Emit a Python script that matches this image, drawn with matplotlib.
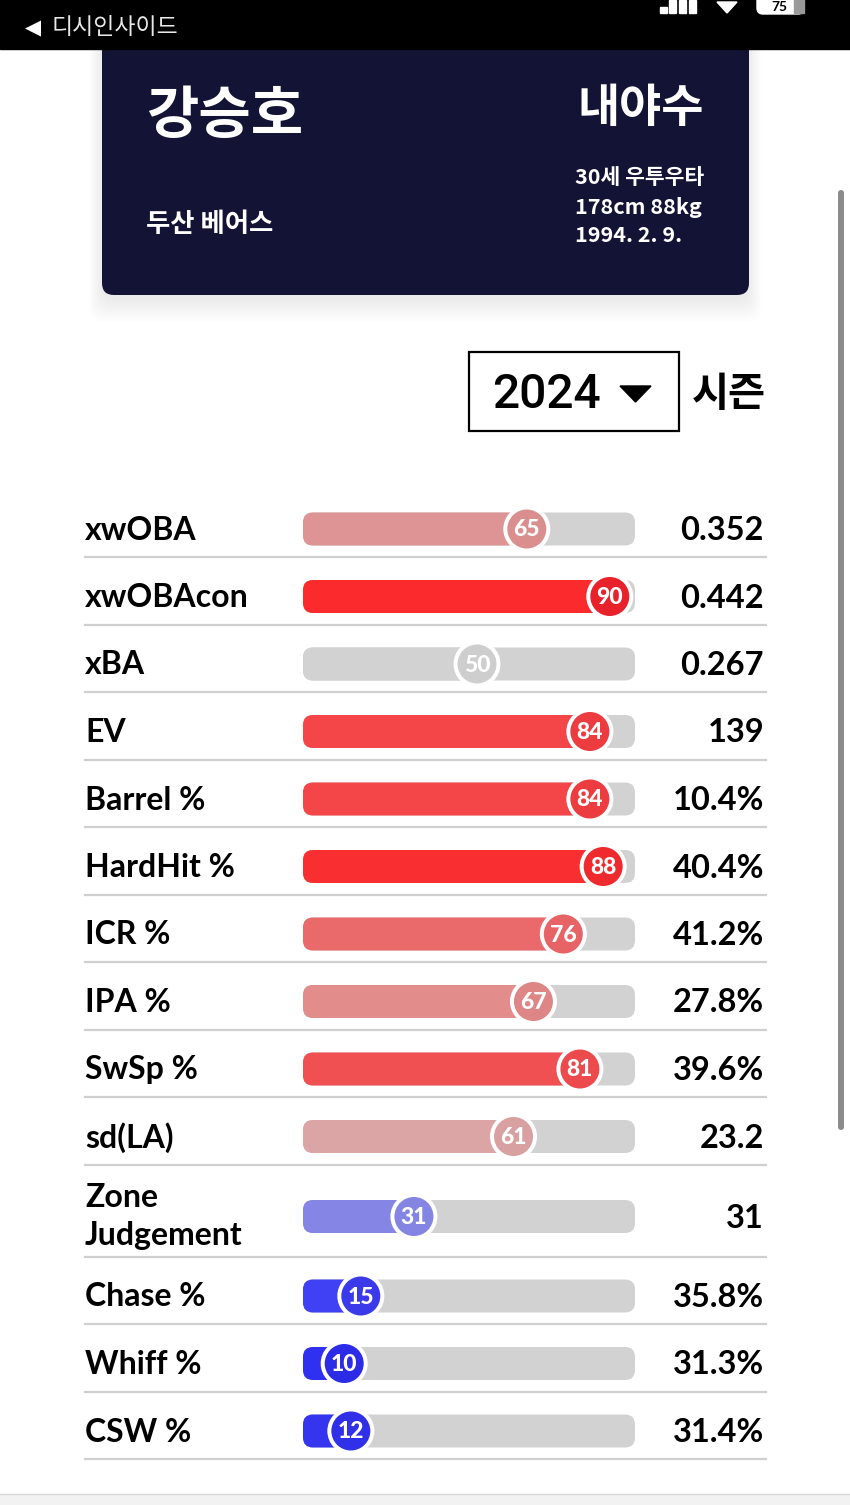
from matplotlib import pyplot as plt
from matplotlib.patches import Rectangle, FancyBboxPatch, Circle, Polygon

plt.rcParams['font.family'] = ['Lato', 'Noto Sans CJK KR', 'DejaVu Sans']

KR = ['Noto Sans CJK KR', 'DejaVu Sans']

# data
labels = ["xwOBA", "xwOBAcon", "xBA", "EV", "Barrel %", "HardHit %", "ICR %", "IPA %",
          "SwSp %", "sd(LA)", "Zone\nJudgement", "Chase %", "Whiff %", "CSW %"]
percentiles = [65, 90, 50, 84, 84, 88, 76, 67, 81, 61, 31, 15, 10, 12]
stat_values = ["0.352", "0.442", "0.267", "139", "10.4%", "40.4%", "41.2%", "27.8%",
               "39.6%", "23.2", "31", "35.8%", "31.3%", "31.4%"]
bar_colors = ["#DE9494", "#FA2A2D", "#D2D2D2", "#F44648", "#F44648", "#F82E30", "#EA6A6C",
              "#E28C8C", "#F05052", "#DCA5A5", "#8585E5", "#4040F5", "#3030F0", "#3535F0"]
knob_colors = ["#DA8E8E", "#E8222A", "#CECECE", "#EC3C40", "#EC3C40", "#EE2A2E", "#E66466",
               "#DE8686", "#EC4A4C", "#D8A0A0", "#8484E2", "#3A3AEA", "#2C2CE6", "#3030E8"]

player_name = "강승호"
team = "두산 베어스"
position = "내야수"
bio_lines = ["30세 우투우타", "178cm 88kg", "1994. 2. 9."]
season = "2024"

fig = plt.figure(figsize=(8.5, 15.05), dpi=100)
ax = fig.add_axes([0, 0, 1, 1])
ax.set_xlim(0, 850)
ax.set_ylim(1505, 0)
ax.axis('off')

# phone status bar
ax.add_patch(Rectangle((0, 0), 850, 49, color='black', zorder=5))
ax.text(25, 28, "◀", color='white', fontsize=15, family=['DejaVu Sans'], va='center', zorder=6)
ax.text(52, 28, "디시인사이드", color='#E8E8E8', fontsize=16.5, family=KR, va='center', zorder=6)
for x, h in [(660, 6), (669, 13), (679, 13), (689, 13)]:
    ax.add_patch(Rectangle((x, 13 - h), 7, h, color='white', zorder=6))
ax.add_patch(Polygon([[717, 2], [737, 2], [727, 13]], color='white', zorder=6))
ax.add_patch(FancyBboxPatch((757, -8), 47, 22, boxstyle="round,pad=0,rounding_size=6", color='white', zorder=6))
ax.add_patch(Rectangle((794, -2), 10, 15, color='#999999', zorder=6))
ax.text(779, 7, "75", color='black', fontsize=10, weight='bold', ha='center', va='center', zorder=7)

# card shadow
for i in range(10):
    ax.add_patch(FancyBboxPatch((102 - i * 1.4, 20), 647 + i * 2.8, 280 + i * 2.4,
                                boxstyle="round,pad=0,rounding_size=14",
                                color='black', alpha=0.006, lw=0, zorder=1))

# player card
ax.add_patch(FancyBboxPatch((102, 20), 647, 275, boxstyle="round,pad=0,rounding_size=12",
                            color='#131335', lw=0, zorder=2))
ax.text(146, 116, player_name, color='white', fontsize=41, family=KR, weight='bold', va='center', zorder=3)
ax.text(146, 225, team, color='white', fontsize=19, family=KR, weight='bold', va='center', zorder=3)
ax.text(704, 109, position, color='white', fontsize=33, family=KR, weight='bold', ha='right', va='center', zorder=3)
for i, line in enumerate(bio_lines):
    ax.text(575, 178 + i * 29, line, color='white', fontsize=15.5, family=KR, weight='bold', va='center', zorder=3)

# season selector
ax.add_patch(Rectangle((469.5, 352), 210, 79, fc='white', ec='black', lw=1.6, zorder=2))
ax.text(492, 395, season, color='black', fontsize=34.5, family=['Roboto'], weight='medium', va='center', zorder=3)
ax.add_patch(Polygon([[620, 386], [651, 386], [635.5, 402]], color='black', zorder=3))
ax.text(692, 394, "시즌", color='black', fontsize=29, family=KR, weight='bold', va='center', zorder=3)

# percentile rows
bar_left = 303
bar_width = 332
knob_offset = 8
row_bottom = 489.5
for label, pct, val, col, knob in zip(labels, percentiles, stat_values, bar_colors, knob_colors):
    two_lines = "\n" in label
    row_h = 92 if two_lines else 67.5
    row_bottom += row_h
    yc = row_bottom - (40 if two_lines else 28)
    knob_x = bar_left + knob_offset + bar_width * pct / 100

    ax.add_patch(FancyBboxPatch((bar_left, yc - 16.5), bar_width, 33,
                                boxstyle="round,pad=0,rounding_size=10", color='#D2D2D2', lw=0, zorder=2))
    ax.add_patch(FancyBboxPatch((bar_left, yc - 16.5), knob_x - bar_left, 33,
                                boxstyle="round,pad=0,rounding_size=10", color=col, lw=0, zorder=3))
    ax.add_patch(Circle((knob_x, yc), 23.5, color='white', lw=0, zorder=4))
    ax.add_patch(Circle((knob_x, yc), 19.5, color=knob, lw=0, zorder=5))
    ax.text(knob_x, yc - 1, str(pct), color='white', fontsize=16.5, weight='black',
            ha='center', va='center_baseline', zorder=6)

    ax.text(85, yc + (0 if two_lines else 1), label, color='black', fontsize=23, weight='bold',
            va='center', linespacing=1.4, zorder=3)
    ax.text(764, yc - 1, val, color='black', fontsize=23.5, weight='bold',
            ha='right', va='center_baseline', zorder=3)
    ax.plot([85, 766], [row_bottom, row_bottom], color='#CFCFCF', lw=1.6, zorder=1)

# scrollbar and bottom strip
ax.add_patch(FancyBboxPatch((838, 190), 6, 940, boxstyle="round,pad=0,rounding_size=3", color='#8C8C8C', lw=0, zorder=2))
ax.add_patch(Rectangle((0, 1494), 850, 11, fc='#F2F2F2', ec='none', zorder=2))
ax.plot([0, 850], [1494, 1494], color='#D8D8D8', lw=1, zorder=3)

plt.savefig("out.png", dpi=100)
